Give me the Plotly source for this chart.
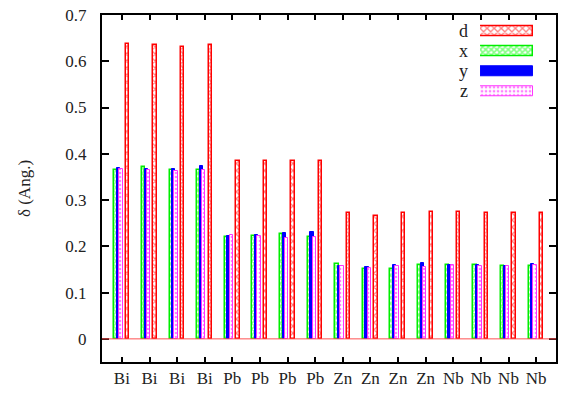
import numpy as np
import plotly.graph_objects as go

# ---- data ----
labels = ["Bi", "Bi", "Bi", "Bi", "Pb", "Pb", "Pb", "Pb",
          "Zn", "Zn", "Zn", "Zn", "Nb", "Nb", "Nb", "Nb"]
d_vals = [0.637, 0.635, 0.630, 0.636, 0.384, 0.384, 0.384, 0.384,
          0.273, 0.266, 0.271, 0.274, 0.275, 0.273, 0.273, 0.273]
x_vals = [0.366, 0.371, 0.366, 0.365, 0.221, 0.223, 0.226, 0.220,
          0.161, 0.152, 0.152, 0.159, 0.159, 0.159, 0.158, 0.157]
y_vals = [0.369, 0.367, 0.367, 0.374, 0.223, 0.225, 0.228, 0.230,
          0.157, 0.155, 0.159, 0.163, 0.160, 0.159, 0.158, 0.161]
z_vals = [0.368, 0.364, 0.363, 0.365, 0.224, 0.223, 0.218, 0.221,
          0.157, 0.154, 0.158, 0.155, 0.159, 0.157, 0.157, 0.159]
series_names = ["d", "x", "y", "z"]
y_ticks = [0, 0.1, 0.2, 0.3, 0.4, 0.5, 0.6, 0.7]

# ---- styling ----
FONT = "Liberation Serif"
offsets = {"d": 0.20, "x": -0.215, "y": -0.12, "z": -0.035}
bw = 0.12
styles = {
    "d": dict(color="white", line=dict(color="#ff0000", width=1.5),
              pattern=dict(shape="x", fgcolor="#ff0000", bgcolor="white", size=5, solidity=0.45)),
    "x": dict(color="white", line=dict(color="#00ee00", width=1.5),
              pattern=dict(shape="x", fgcolor="#00ff00", bgcolor="white", size=4, solidity=0.65)),
    "y": dict(color="#0000ff", line=dict(color="#0000ff", width=1)),
    "z": dict(color="white", line=dict(color="#ff30ff", width=1, dash=None) if False else dict(color="#ff30ff", width=1),
              pattern=dict(shape=".", fgcolor="#ff00ff", bgcolor="white", size=4, solidity=0.35)),
}
values = {"d": d_vals, "x": x_vals, "y": y_vals, "z": z_vals}

idx = np.arange(len(labels))
fig = go.Figure()
for name in ["x", "y", "z", "d"]:
    fig.add_trace(go.Bar(
        x=idx + offsets[name], y=values[name], width=bw,
        marker=styles[name], name=name, showlegend=False,
        xaxis="x", yaxis="y"))

# legend swatches drawn as horizontal bars on an auxiliary axis
leg_pos = {"d": 3, "x": 2, "y": 1, "z": 0}
for name in series_names:
    fig.add_trace(go.Bar(
        x=[1], y=[leg_pos[name]], orientation="h", width=0.5,
        marker=styles[name], showlegend=False, hoverinfo="skip",
        xaxis="x2", yaxis="y2"))

W, H = 564, 395
L, R, T, B = 102, 6, 13, 33
pw, ph = W - L - R, H - T - B

def px_x(p):
    return (p - L) / pw

def px_y(p):
    return 1 - (p - T) / ph

annotations = []
for name in series_names:
    yc = 29.3 + (3 - leg_pos[name]) * 20
    annotations.append(dict(
        x=px_x(472), y=px_y(yc), xref="paper", yref="paper",
        text=name, showarrow=False, xanchor="right", yanchor="middle",
        font=dict(family=FONT, size=18, color="#222")))

fig.update_layout(
    width=W, height=H,
    margin=dict(l=L, r=R, t=T, b=B),
    paper_bgcolor="white", plot_bgcolor="white",
    barmode="overlay", bargap=0,
    font=dict(family=FONT, size=17, color="#222"),
    showlegend=False,
    xaxis=dict(
        range=[-0.72, 15.72], tickmode="array", tickvals=idx.tolist(),
        ticktext=labels, ticks="inside", ticklen=5, tickwidth=1.5,
        tickcolor="black", showline=True, linewidth=2, linecolor="black",
        mirror="ticks", showgrid=False, zeroline=False,
        tickfont=dict(family=FONT, size=17, color="#222")),
    yaxis=dict(
        range=[-0.05, 0.7], tickmode="array", tickvals=y_ticks,
        ticktext=["0" if v == 0 else f"{v:.1f}" for v in y_ticks],
        ticks="inside", ticklen=7, tickwidth=1.5, tickcolor="black",
        showline=True, linewidth=2, linecolor="black", mirror="ticks",
        showgrid=False, zeroline=False, ticklabelstandoff=10,
        title=dict(text="δ (Ang.)", standoff=30,
                   font=dict(family=FONT, size=17, color="#222")),
        tickfont=dict(family=FONT, size=17, color="#222")),
    xaxis2=dict(domain=[px_x(481.7), px_x(535)], range=[0, 1], anchor="y2",
                visible=False, fixedrange=True),
    yaxis2=dict(domain=[px_y(99.3), px_y(19.3)], range=[-0.5, 3.5], anchor="x2",
                visible=False, fixedrange=True),
    annotations=annotations,
    shapes=[dict(type="line", xref="x", yref="y", x0=-0.72, x1=15.72, y0=0, y1=0,
                 line=dict(color="#ff5050", width=1), layer="above")],
)

fig.write_html("out.html")
